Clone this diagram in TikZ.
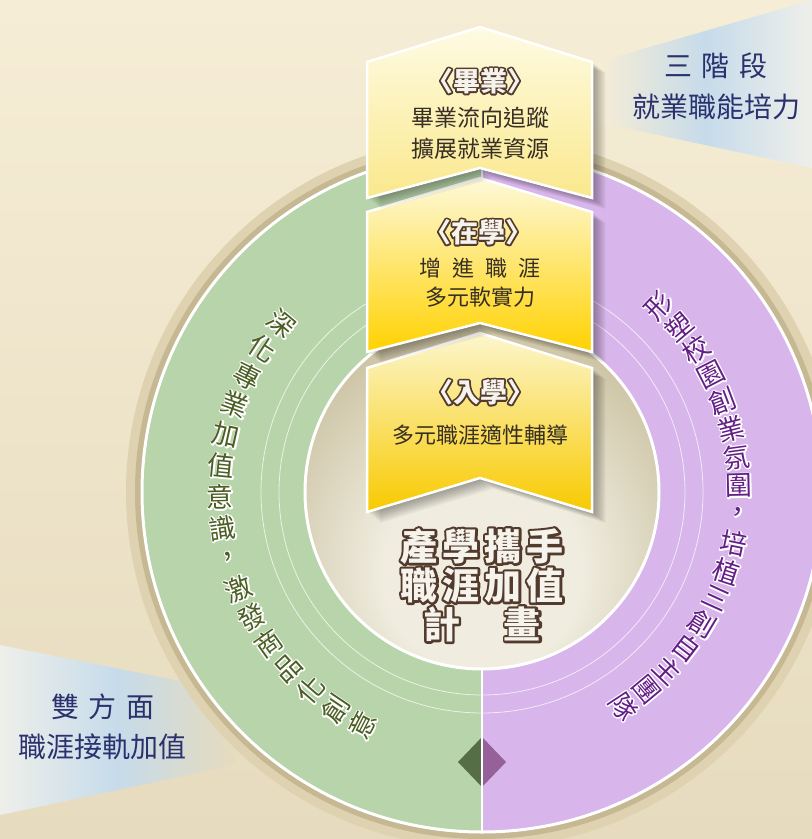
\documentclass[tikz,border=0pt]{standalone}
\usepackage{fontspec}
\setmainfont{Noto Sans CJK TC}
\newfontfamily\rimthin[FakeBold=10]{Noto Sans CJK TC}
\newfontfamily\rimheavy[FakeBold=13]{Noto Sans CJK TC}
\usetikzlibrary{calc}

\definecolor{bgtop}{RGB}{246,237,214}
\definecolor{bgbot}{RGB}{230,219,190}
\definecolor{beam}{RGB}{198,219,234}
\definecolor{beamend}{RGB}{238,239,234}
\definecolor{tanlight}{RGB}{222,210,176}
\definecolor{tan}{RGB}{198,184,146}
\definecolor{ringgreen}{RGB}{184,212,170}
\definecolor{ringpurple}{RGB}{216,181,234}
\definecolor{diagreen}{RGB}{86,110,70}
\definecolor{diapurple}{RGB}{150,96,152}
\definecolor{corelight}{RGB}{240,237,224}
\definecolor{coremid}{RGB}{200,190,156}
\definecolor{coredark}{RGB}{136,123,86}
\definecolor{gtext}{RGB}{76,94,36}
\definecolor{ptext}{RGB}{100,30,136}
\definecolor{navy}{RGB}{42,49,110}
\definecolor{brown}{RGB}{82,58,44}
\definecolor{ink}{RGB}{55,46,36}
\definecolor{paper}{RGB}{246,243,236}
\definecolor{cream1}{RGB}{254,251,228}
\definecolor{gold1}{RGB}{250,232,140}
\definecolor{cream2}{RGB}{254,249,218}
\definecolor{mid2}{RGB}{255,230,90}
\definecolor{gold2}{RGB}{255,210,0}
\definecolor{cream3}{RGB}{252,246,206}
\definecolor{mid3}{RGB}{253,225,70}
\definecolor{gold3}{RGB}{248,202,0}

\pgfdeclareradialshading{coreshade}{\pgfpoint{0bp}{-14bp}}{color(0bp)=(corelight); color(14bp)=(corelight); color(34bp)=(coremid); color(50bp)=(coredark); color(72bp)=(coredark)}

\tikzstyle{every node}=[inner sep=0pt]
\tikzstyle{ringchar}=[font=\fontsize{27}{27}\selectfont]
\tikzstyle{ringrim}=[font=\rimthin\fontsize{27}{27}\selectfont, text=white]
\tikzstyle{title}=[font=\bfseries\fontsize{27}{27}\selectfont, text=paper]
\tikzstyle{titlerim}=[font=\rimheavy\bfseries\fontsize{27}{27}\selectfont, text=brown]
\tikzstyle{body}=[font=\fontsize{23}{31}\selectfont, text=ink, align=center]
\tikzstyle{side}=[font=\fontsize{28}{41}\selectfont, text=navy, align=center]
\tikzstyle{core}=[font=\bfseries\fontsize{37}{39}\selectfont, text=paper, align=center]
\tikzstyle{corerim}=[font=\rimheavy\bfseries\fontsize{37}{39}\selectfont, text=brown]

% text over a stroked copy of itself: name, place, options, rim options, text
\newcommand{\halo}[5]{%
  \node[#3, #4] at (#2) {\special{pdf:literal direct 1 j}#5};
  \node[#3] (#1) at (#2) {#5};
}

\begin{document}
\begin{tikzpicture}[x=1pt, y=-1pt]
\useasboundingbox (0,0) rectangle (812,839);
\clip (0,0) rectangle (812,839);
\shade[top color=bgtop, bottom color=bgbot] (0,0) rectangle (812,839);

% light beams
\shade[left color=bgtop, right color=beamend, middle color=beam] (598,62) -- (812,0) -- (812,168) -- (598,122) -- cycle;
\shade[left color=beamend, right color=bgbot, middle color=beam] (0,645) -- (235,692) -- (235,765) -- (0,815) -- cycle;

% the two halves of the ring
\coordinate (c) at (482,492);
\fill[tanlight] (c) circle[radius=356];
\fill[tan] (c) circle[radius=347];
\begin{scope}
  \clip (0,0) rectangle (482,839);
  \fill[ringgreen] (c) circle[radius=340];
\end{scope}
\begin{scope}
  \clip (482,0) rectangle (812,839);
  \fill[ringpurple] (c) circle[radius=340];
\end{scope}
\draw[white, line width=3pt] (c) circle[radius=340];
\draw[white, opacity=0.7, line width=0.8pt] (c) circle[radius=203] (c) circle[radius=221];
\fill[diagreen] (482,737) -- (458,762) -- (482,787) -- cycle;
\fill[diapurple] (482,737) -- (506,762) -- (482,787) -- cycle;
\draw[white, line width=2.5pt] (482,152) -- (482,832);

% core
\shade[shading=coreshade] (c) circle[radius=177];
\draw[white, line width=3pt] (c) circle[radius=177];

% ring texts
\foreach \c [count=\i] in {深,化,專,業,加,值,意,識,，,激,發,商,品,化,創,意} {
  \pgfmathsetmacro{\ang}{140+(\i-1)*6.85}
  \coordinate (gp\i) at ($(c)+({262*cos(\ang)},{-262*sin(\ang)})$);
  \halo{g\i}{gp\i}{ringchar, text=gtext, rotate=\ang-180}{ringrim}{\c}
}
\foreach \c [count=\i] in {形,塑,校,園,創,業,氛,圍,，,培,植,三,創,自,主,團,隊} {
  \pgfmathsetmacro{\ang}{46.5-(\i-1)*6.45}
  \coordinate (pp\i) at ($(c)+({257*cos(\ang)},{-257*sin(\ang)})$);
  \halo{p\i}{pp\i}{ringchar, text=ptext, rotate=\ang}{ringrim}{\c}
}

% banners, lowest first
\foreach \sh/\pk/\bc/\ap/\tc/\mc/\bcol in {368/333/512/478/cream3/mid3/gold3, 212/178/352/323/cream2/mid2/gold2, 62/27/198/168/cream1/cream1/gold1} {
  \foreach \k in {1,...,9}
    \fill[black, opacity=0.045, shift={(\k*1.5,\k*1.2)}] (367,\sh) -- (480,\pk) -- (592,\sh) -- (592,\bc) -- (480,\ap) -- (367,\bc) -- cycle;
  \shadedraw[top color=\tc, middle color=\mc, bottom color=\bcol, draw=white, line width=2.5pt] (367,\sh) -- (480,\pk) -- (592,\sh) -- (592,\bc) -- (480,\ap) -- (367,\bc) -- cycle;
}

\halo{grad}{480,81}{title}{titlerim}{〈畢業〉}
\node[body] (gradtext) at (480,133.5) {畢業流向追蹤\\擴展就業資源};
\halo{study}{478,232}{title}{titlerim}{〈在學〉}
\node[body, font=\fontsize{22}{29}\selectfont] (studytext) at (480,282.5) {增\hspace{0.5em}進\hspace{0.5em}職\hspace{0.5em}涯\\多元軟實力};
\halo{enter}{480,392}{title}{titlerim}{〈入學〉}
\node[body, font=\fontsize{22}{22}\selectfont] (entertext) at (480,435) {多元職涯適性輔導};

% centre
\halo{plan}{482,585}{core}{corerim}{產\hspace{5pt}學\hspace{5pt}攜\hspace{5pt}手\\職\hspace{5pt}涯\hspace{5pt}加\hspace{5pt}值\\計\hspace{44pt}畫}

% side notes
\node[side] (stages) at (716,86) {三\hspace{0.35em}階\hspace{0.35em}段\\就業職能培力};
\node[side, font=\fontsize{28}{40}\selectfont] (sides) at (103,727) {雙\hspace{0.35em}方\hspace{0.35em}面\\職涯接軌加值};
\end{tikzpicture}
\end{document}
